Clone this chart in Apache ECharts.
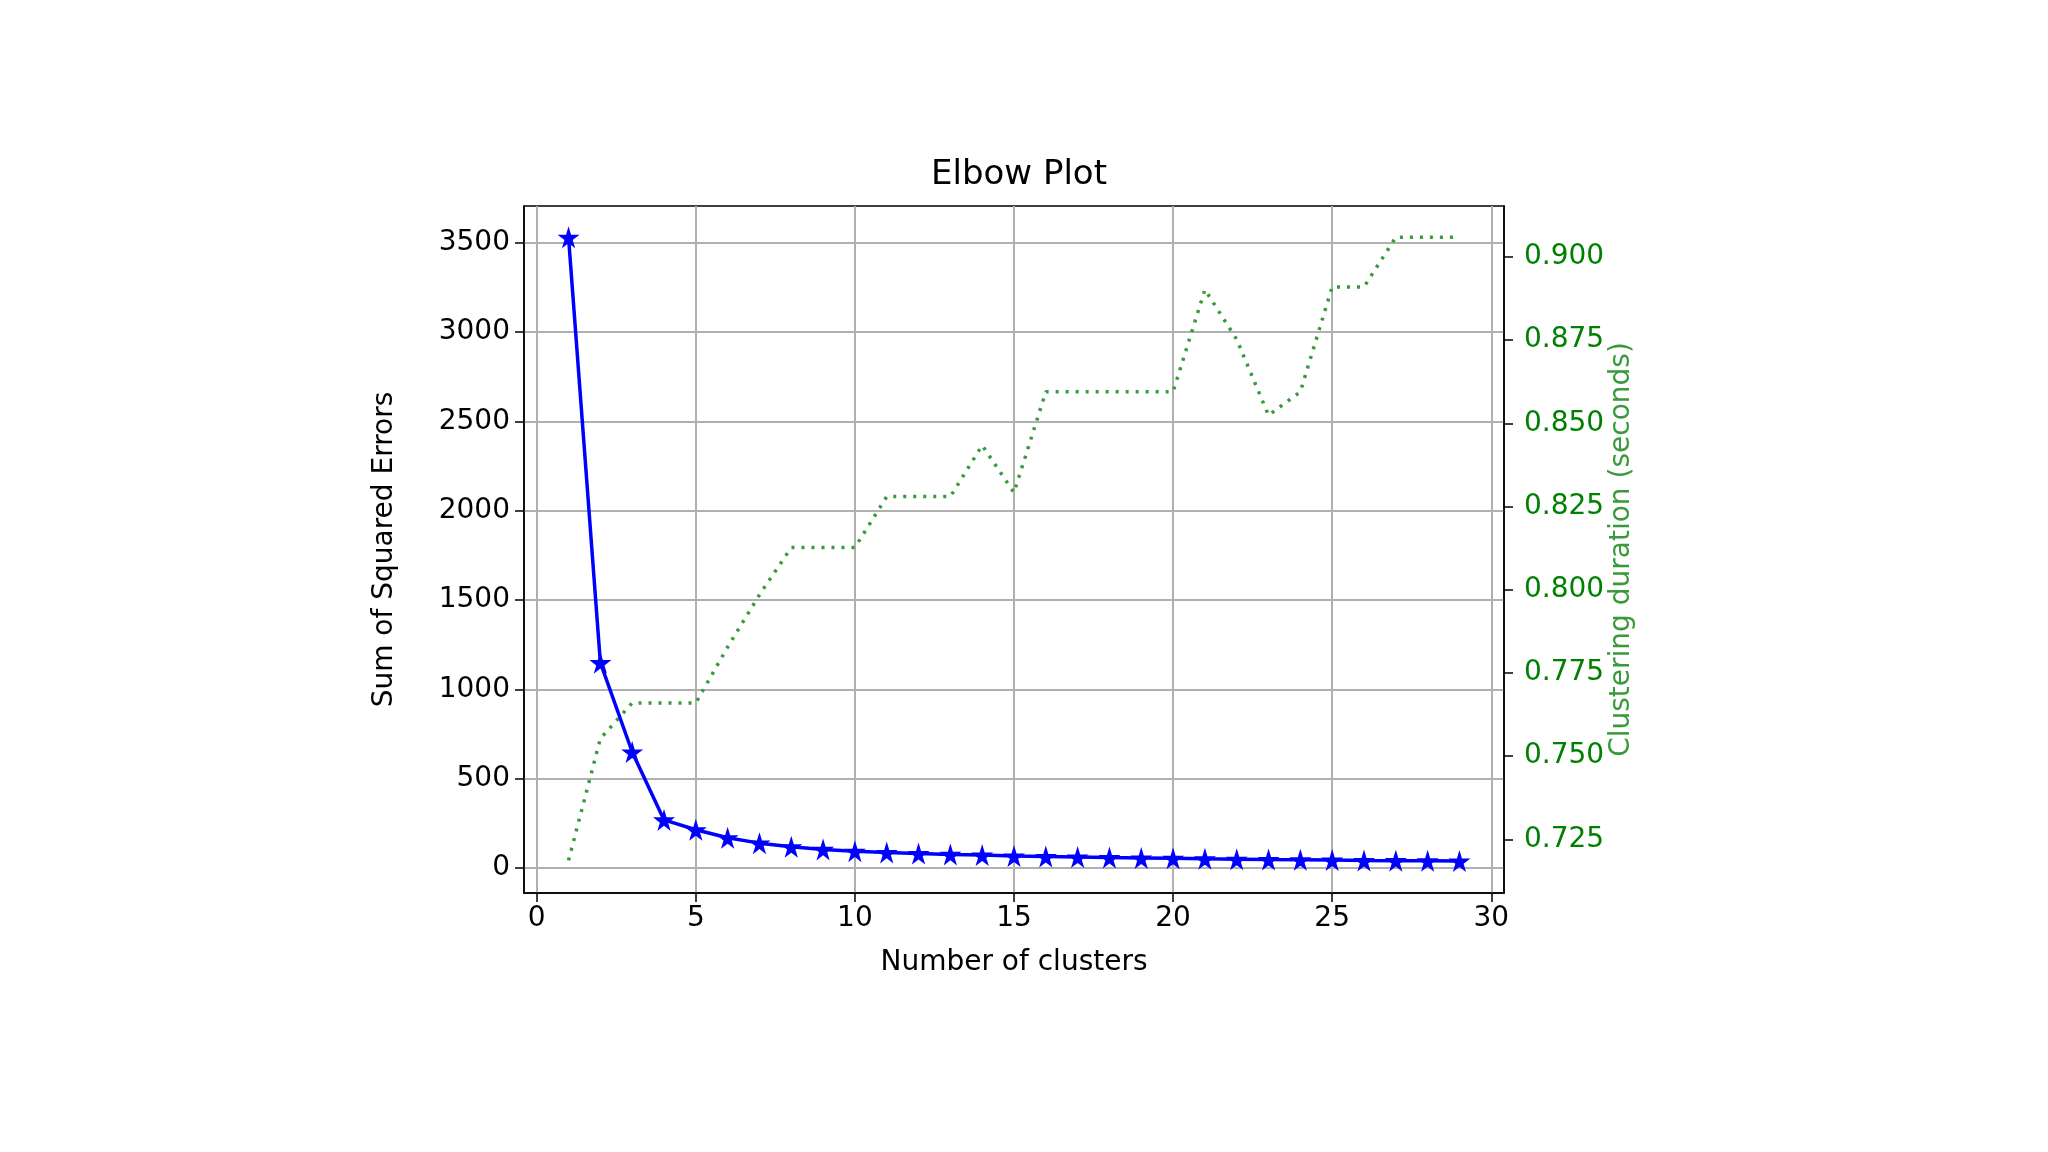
<!DOCTYPE html>
<html><head><meta charset="utf-8">
<script src="https://cdn.jsdelivr.net/npm/echarts@6/dist/echarts.min.js"></script>
<style>html,body{margin:0;background:#fff}#c{width:2048px;height:1152px}</style>
</head><body><div id="c"></div>
<script>
const clusters = [1,2,3,4,5,6,7,8,9,10,11,12,13,14,15,16,17,18,19,20,21,22,23,24,25,26,27,28,29];
const sse = [3530,1150,650,270,215,170,140,120,105,95,88,82,77,73,68,65,62,59,57,55,52,50,48,47,45,43,42,41,40];
const duration = [0.7187,0.7553,0.766,0.766,0.766,0.7828,0.7985,0.8127,0.8127,0.8127,0.828,0.828,0.828,0.8434,0.8292,0.8595,0.8595,0.8595,0.8595,0.8595,0.8902,0.8752,0.8524,0.8595,0.891,0.891,0.9059,0.9059,0.9059];
const xTicks = [0,5,10,15,20,25,30];
const yTicks = [0,500,1000,1500,2000,2500,3000,3500];
const y2Ticks = [0.725,0.75,0.775,0.8,0.825,0.85,0.875,0.9];
const star = 'path://M50,0 L61,35 L98,35 L68,57 L79,91 L50,70 L21,91 L32,57 L2,35 L39,35 Z';
const F = 'DejaVu Sans';
const chart = echarts.init(document.getElementById('c'));
const tick = {show:true,inside:false,length:9,lineStyle:{color:'#000',width:1.5}};
chart.setOption({
  animation:false,
  title:{text:'Elbow Plot',left:1014,top:153,textAlign:'center',textStyle:{fontFamily:F,fontSize:34,fontWeight:'normal',color:'#000'}},
  grid:{left:524,right:544,top:206,bottom:259,show:true,borderColor:'#000',borderWidth:1.5,backgroundColor:'transparent'},
  xAxis:{type:'value',min:-0.4,max:30.4,name:'Number of clusters',nameLocation:'middle',nameGap:56,
    nameTextStyle:{fontFamily:F,fontSize:28,color:'#000'},
    axisLine:{show:true,onZero:false,lineStyle:{color:'#000',width:1.5}},
    axisTick:Object.assign({customValues:xTicks},tick),
    axisLabel:{fontFamily:F,fontSize:28,color:'#000',margin:12,customValues:xTicks},
    splitLine:{show:true,lineStyle:{color:'#b0b0b0',width:2}}},
  yAxis:[{type:'value',min:-139,max:3705,position:'left',name:'Sum of Squared Errors',nameLocation:'middle',nameGap:125,
    nameTextStyle:{fontFamily:F,fontSize:28,color:'#000'},
    axisLine:{show:true,onZero:false,lineStyle:{color:'#000',width:1.5}},
    axisTick:Object.assign({customValues:yTicks},tick),
    axisLabel:{fontFamily:F,fontSize:28,color:'#000',margin:14,formatter:v=>String(v),customValues:yTicks},
    splitLine:{show:true,lineStyle:{color:'#b0b0b0',width:2}}},
   {type:'value',min:0.7089,max:0.9153,position:'right',name:'Clustering duration (seconds)',nameLocation:'middle',nameGap:104,
    nameRotate:90,
    nameTextStyle:{fontFamily:F,fontSize:28,color:'#3a9a3a'},
    axisLine:{show:true,onZero:false,lineStyle:{color:'#000',width:1.5}},
    axisTick:Object.assign({customValues:y2Ticks},tick),
    axisLabel:{fontFamily:F,fontSize:28,color:'#008000',margin:20,formatter:v=>v.toFixed(3),customValues:y2Ticks},
    splitLine:{show:false}}],
  series:[
    {type:'line',yAxisIndex:0,data:clusters.map((c,i)=>[c,sse[i]]),symbol:star,symbolSize:22,
     lineStyle:{color:'#0000ff',width:3.5},itemStyle:{color:'#0000ff'},z:3},
    {type:'line',yAxisIndex:1,data:clusters.map((c,i)=>[c,duration[i]]),symbol:'none',
     lineStyle:{color:'#3a9a3a',width:3.5,type:[3,7]},z:2}
  ]
});
</script></body></html>
